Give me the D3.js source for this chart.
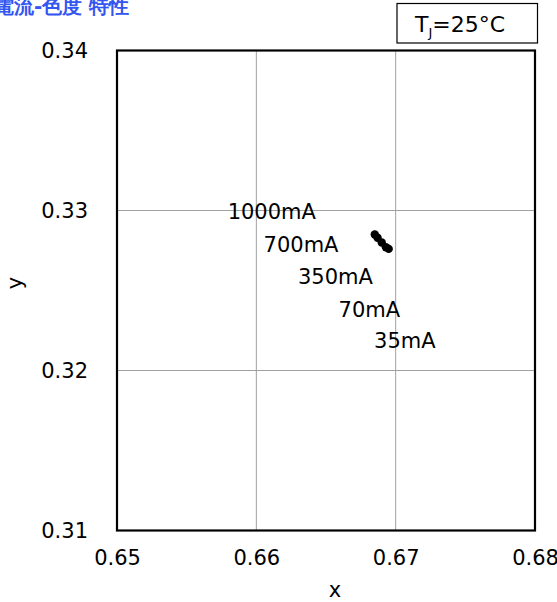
<!DOCTYPE html>
<html>
<head>
<meta charset="utf-8">
<script src="https://cdn.jsdelivr.net/npm/d3@7"></script>
<style>
  body { margin: 0; background: #fff; }
  text { font-family: "DejaVu Sans", Verdana, sans-serif; }
</style>
</head>
<body>
<svg id="chart" width="557" height="602"></svg>
<script>
  /*
    Data
  */
  let currents = ['1000mA', '700mA', '350mA', '70mA', '35mA'];
  let cieX = [0.6685, 0.6687, 0.6690, 0.6693, 0.6695];
  let cieY = [0.3285, 0.3283, 0.3280, 0.3277, 0.3276];

  // where each current label sits (data units, text start / baseline)
  let labelX = [0.65794, 0.66052, 0.66299, 0.66590, 0.66845];
  let labelY = [0.32947, 0.32741, 0.32539, 0.32336, 0.32139];

  let xTicks = [0.65, 0.66, 0.67, 0.68];
  let yTicks = [0.31, 0.32, 0.33, 0.34];

  let title = '電流-色度 特性';
  let tempLabel = ['T', 'J', '=25°C'];

  /*
    Layout
  */
  let svg = d3.select('#chart');
  let plot = { left: 117, right: 535, top: 50.5, bottom: 530.5 };
  let fs = 21;

  let x = d3.scaleLinear().domain([0.65, 0.68]).range([plot.left, plot.right]);
  let y = d3.scaleLinear().domain([0.31, 0.34]).range([plot.bottom, plot.top]);

  //grid
  svg.append('g')
    .selectAll('line')
    .data(xTicks.slice(1, -1))
    .enter()
    .append('line')
    .attr('x1', d => x(d)).attr('x2', d => x(d))
    .attr('y1', plot.top).attr('y2', plot.bottom)
    .attr('stroke', '#a0a0a0').attr('stroke-width', 1);

  svg.append('g')
    .selectAll('line')
    .data(yTicks.slice(1, -1))
    .enter()
    .append('line')
    .attr('x1', plot.left).attr('x2', plot.right)
    .attr('y1', d => y(d)).attr('y2', d => y(d))
    .attr('stroke', '#a0a0a0').attr('stroke-width', 1);

  //frame
  svg.append('rect')
    .attr('x', plot.left).attr('y', plot.top)
    .attr('width', plot.right - plot.left)
    .attr('height', plot.bottom - plot.top)
    .attr('fill', 'none')
    .attr('stroke', '#000')
    .attr('stroke-width', 2.2);

  //axes (labels only, the frame does the lines)
  let xAxis = svg.append('g')
    .attr('transform', 'translate(0,' + plot.bottom + ')')
    .call(d3.axisBottom(x).tickValues(xTicks).tickFormat(d3.format('.2f')).tickSize(0).tickPadding(20));
  let yAxis = svg.append('g')
    .attr('transform', 'translate(' + plot.left + ',0)')
    .call(d3.axisLeft(y).tickValues(yTicks).tickFormat(d3.format('.2f')).tickSize(0).tickPadding(29));

  [xAxis, yAxis].forEach(function (g) {
    g.select('.domain').remove();
    g.selectAll('text')
      .attr('font-family', '"DejaVu Sans", Verdana, sans-serif')
      .attr('font-size', fs)
      .attr('fill', '#000');
  });

  //axis titles
  svg.append('text')
    .attr('x', 335)
    .attr('y', 597)
    .attr('text-anchor', 'middle')
    .attr('font-size', fs)
    .text('x');

  svg.append('text')
    .attr('transform', 'translate(22,283) rotate(-90)')
    .attr('text-anchor', 'middle')
    .attr('font-size', fs)
    .text('y');

  //data points
  svg.append('g')
    .selectAll('circle')
    .data(cieX)
    .enter()
    .append('circle')
    .attr('cx', (d, i) => x(d))
    .attr('cy', (d, i) => y(cieY[i]))
    .attr('r', 4.2)
    .attr('fill', '#000');

  //current labels
  svg.append('g')
    .selectAll('text')
    .data(currents)
    .enter()
    .append('text')
    .attr('x', (d, i) => x(labelX[i]))
    .attr('y', (d, i) => y(labelY[i]))
    .attr('font-size', fs)
    .text(d => d);

  //title
  svg.append('text')
    .attr('x', -6)
    .attr('y', 13)
    .attr('font-family', '"Noto Sans CJK JP", sans-serif')
    .attr('font-weight', 'bold')
    .attr('font-size', 20)
    .attr('fill', '#3355f0')
    .text(title);

  //temperature box
  svg.append('rect')
    .attr('x', 397).attr('y', 3.5)
    .attr('width', 140.5).attr('height', 39.5)
    .attr('fill', '#fff')
    .attr('stroke', '#000')
    .attr('stroke-width', 1.2);

  let t = svg.append('text')
    .attr('x', 415)
    .attr('y', 32)
    .attr('font-size', fs + 1);
  t.append('tspan').text(tempLabel[0]);
  t.append('tspan').attr('font-size', 13).attr('dy', 5).text(tempLabel[1]);
  t.append('tspan').attr('dy', -5).text(tempLabel[2]);
</script>
</body>
</html>
